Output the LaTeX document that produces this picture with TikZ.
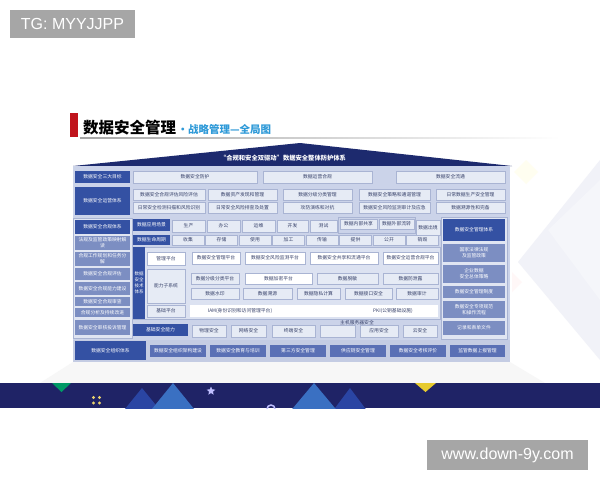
\documentclass[tikz,border=0pt]{standalone}
\usepackage{fontspec}
\setmainfont{Noto Sans CJK SC}
\newfontfamily\wmfont{Liberation Sans}
\usetikzlibrary{shapes.geometric}

\definecolor{roofblue}{HTML}{1D2A6E}
\definecolor{bandblue}{HTML}{1F2366}
\definecolor{panelbg}{HTML}{CBD3E9}
\definecolor{techbg}{HTML}{DCE2F1}
\definecolor{cellbg}{HTML}{E6EBF5}
\definecolor{cellline}{HTML}{A9B4D3}
\definecolor{celltext}{HTML}{37416A}
\definecolor{labdark}{HTML}{3451A3}
\definecolor{lablight}{HTML}{7C8EC2}
\definecolor{orgblue}{HTML}{5A70B5}
\definecolor{titlered}{HTML}{C0141C}
\definecolor{subblue}{HTML}{2F9AD8}
\definecolor{wmgray}{HTML}{A6A6A6}
\definecolor{tridark}{HTML}{2A45A3}
\definecolor{trilight}{HTML}{3A70C2}
\definecolor{diamondbg}{HTML}{F1F2F8}

\tikzset{
  box/.style={inner sep=0pt, outer sep=0pt, align=center, font=\fontsize{4.8}{5.8}\selectfont},
  lab/.style={box, fill=labdark, text=white},
  sublab/.style={box, fill=lablight, text=white},
  cell/.style={box, fill=cellbg, draw=cellline, line width=0.3pt, text=celltext},
  wcell/.style={cell, fill=white},
  orgcell/.style={box, fill=orgblue, text=white},
  frame/.style={draw=cellline, line width=0.4pt},
  wmark/.style={fill=wmgray, text=white, inner sep=0pt, font=\wmfont\fontsize{16}{18}\selectfont},
}

\begin{document}
\begin{tikzpicture}[x=1pt, y=-1pt]
	\useasboundingbox (0,0) rectangle (600,480);
	\fill[white] (0,0) rectangle (600,480);

	% rombos de fondo
	\fill[diamondbg] (600,160) -- (518,262) -- (600,360) -- cycle;
	\fill[diamondbg!70] (548,230) -- (600,180) -- (600,300) -- cycle;
	\fill[yellow!6] (526,160) -- (538,172) -- (526,184) -- (514,172) -- cycle;
	\fill[red!3] (512,272) -- (522,282) -- (512,292) -- cycle;

	% marcas de agua
	\node[wmark, minimum width=125, minimum height=28] (tg) at (72.5,24) {TG: MYYJJPP};
	\node[wmark, minimum width=161, minimum height=30] (site) at (507.5,455) {www.down-9y.com};

	% titulo
	\fill[titlered] (70,113) rectangle (78,137);
	\node[anchor=base west, inner sep=0pt, font=\fontsize{15.5}{17}\selectfont\bfseries] (title) at (83,133) {数据安全管理};
	\node[anchor=base west, inner sep=0pt, text=subblue, font=\fontsize{10.5}{12}\selectfont\bfseries] (subtitle) at ([xshift=1pt]title.base east) {•战略管理—全局图};
	\shade[left color=black!35, right color=white] (80,137.6) rectangle (560,138.6);

	% tejado
	\fill[roofblue] (73,166) -- (300,143) -- (512,166) -- cycle;
	\node[inner sep=0pt, text=white, font=\fontsize{6.3}{7}\selectfont\bfseries] (roof) at (283,158) {“合规和安全双驱动”数据安全整体防护体系};

	% panel y sombra
	\fill[black!3] (73,362) -- (510,362) -- (545,383) -- (40,383) -- cycle;
	\fill[panelbg] (73,166) rectangle (510,362);

	% tres objetivos
	\node[lab, minimum width=55, minimum height=12] (goal) at (102.5,177) {数据安全三大目标};
	\foreach \n/\a/\b/\t in {g1/133/257/数据安全防护, g2/263/372/数据运营合规, g3/396/505/数据安全流通}
		\node[cell, minimum width={\b-\a}, minimum height=12] (\n) at ({(\a+\b)/2},177) {\t};

	% sistema de operacion
	\node[lab, minimum width=55, minimum height=28] (oper) at (102.5,201) {数据安全运营体系};
	\foreach \n/\a/\b/\t in {oa1/133/205/数据安全合规评估风险评估, oa2/208/277/数据资产发现和管理, oa3/283/352/数据分级分类管理, oa4/359/430/数据安全策略和通道管理, oa5/436/505/日常数据生产安全管理}
		\node[cell, minimum width={\b-\a}, minimum height=11] (\n) at ({(\a+\b)/2},194.5) {\t};
	\foreach \n/\a/\b/\t in {ob1/133/205/日常安全检测扫描和风险识别, ob2/208/277/日常安全风险排查及处置, ob3/283/352/攻防演练和对抗, ob4/359/430/数据安全风险监测审计及应急, ob5/436/505/数据溯源性和完备}
		\node[cell, minimum width={\b-\a}, minimum height=11] (\n) at ({(\a+\b)/2},207.5) {\t};

	% columna izquierda: cumplimiento
	\draw[frame, fill=panelbg!60] (73,218) rectangle (132,338);
	\node[lab, minimum width=55, minimum height=14] (comp) at (102.5,227) {数据安全合规体系};
	\foreach \n/\c/\h/\t in {cp1/243/14/法规及监管政策映射解\\读, cp2/259/14/合规工作规划和任务分\\解, cp3/274/12/数据安全合规评估, cp4/288.5/13/数据安全合规能力建设, cp5/301.5/9/数据安全合规审查, cp6/312.5/9/合规分析及持续改进, cp7/327.5/15/数据安全审核投诉管理}
		\node[sublab, minimum width=55, minimum height=\h] (\n) at (102.5,\c) {\t};

	% escenarios y ciclo de vida
	\node[lab, minimum width=37, minimum height=12] (scene) at (151.5,225) {数据应用场景};
	\foreach \n/\a/\b/\t in {sc1/172/205/生产, sc2/207/240/办公, sc3/242/275/运维, sc4/277/308/开发, sc5/310/337/测试}
		\node[cell, minimum width={\b-\a}, minimum height=12] (\n) at ({(\a+\b)/2},226) {\t};
	\draw[frame] (338,217) rectangle (415,233.5);
	\node[cell, minimum width=37, minimum height=10] (share) at (358.5,224) {数据内部共享};
	\node[cell, minimum width=35, minimum height=10] (flow) at (396.5,224) {数据外部流转};
	\node[cell, minimum width=24, minimum height=15] (exit) at (428,227.5) {数据出境};

	\node[lab, minimum width=37, minimum height=10] (life) at (151.5,240) {数据生命周期};
	\foreach \t [count=\i from 0] in {收集,存储,使用,加工,传输,提供,公开,销毁}
		\node[cell, minimum width=32, minimum height=10] (life\i) at ({188+\i*33.5},240) {\t};

	% sistema tecnico
	\draw[frame, fill=techbg] (133,247) rectangle (440,319);
	\node[lab, minimum width=12, minimum height=72, font=\fontsize{4.5}{6}\selectfont] (tech) at (139,283) {数据\\安全\\技术\\体系};
	\node[wcell, minimum width=38, minimum height=13] (mgmt) at (166,258.5) {管理平台};
	\foreach \n/\a/\b/\t in {pf1/192/240/数据安全管理平台, pf2/245/305/数据安全风险监测平台, pf3/310/378/数据安全共享和流通平台, pf4/383/438/数据安全运营合规平台}
		\node[wcell, minimum width={\b-\a}, minimum height=12] (\n) at ({(\a+\b)/2},258) {\t};
	\node[cell, minimum width=38, minimum height=34] (subsys) at (166,286) {能力子系统};
	\node[cell, minimum width=48, minimum height=11] (sa1) at (215,278.5) {数据分级分类平台};
	\node[wcell, minimum width=67, minimum height=11] (sa2) at (278.5,278.5) {数据加密平台};
	\node[cell, minimum width=61, minimum height=11] (sa3) at (347.5,278.5) {数据脱敏};
	\node[cell, minimum width=55, minimum height=11] (sa4) at (410.5,278.5) {数据防泄露};
	\foreach \n/\a/\b/\t in {sb1/191/239/数据水印, sb2/243/292/数据溯源, sb3/297/340/数据隐私计算, sb4/345/392/数据接口安全, sb5/396/438/数据审计}
		\node[cell, minimum width={\b-\a}, minimum height=11] (\n) at ({(\a+\b)/2},293.5) {\t};
	\node[cell, minimum width=38, minimum height=12] (basepf) at (166,311) {基础平台};
	\fill[white] (190,305) rectangle (438,317);
	\node[box, text=celltext] (iam) at (240,311) {IAM(身份识别和访问管理平台)};
	\node[box, text=celltext] (pki) at (393,311) {PKI(公钥基础设施)};

	% capacidades basicas
	\node[lab, minimum width=55, minimum height=12] (basic) at (160.5,330) {基础安全能力};
	\foreach \n/\a/\b/\t in {bs1/192/226/物理安全, bs2/231/266/网络安全, bs3/272/315/终端安全, bs4/320/355/{}, bs5/360/398/应用安全, bs6/403/437/云安全}
		\node[cell, minimum width={\b-\a}, minimum height=12] (\n) at ({(\a+\b)/2},331) {\t};
	\node[box, text=celltext] (host) at (357,322.5) {主机服务器安全};

	% columna derecha: gestion
	\draw[frame, fill=panelbg!60] (441,217) rectangle (507,339);
	\node[lab, minimum width=62, minimum height=22] (mng) at (474,230) {数据安全管理体系};
	\foreach \n/\c/\h/\t in {mg1/253/18/国家法律法规\\及监管政策, mg2/274/18/企业数据\\安全总体策略, mg3/292/12/数据安全管理制度, mg4/309.5/17/数据安全专项规范\\和操作流程, mg5/328/14/记录和表单文件}
		\node[sublab, minimum width=62, minimum height=\h] (\n) at (474,\c) {\t};

	% organizacion
	\fill[lablight!45] (73,340) rectangle (510,362);
	\node[lab, minimum width=71, minimum height=19] (org) at (110.5,350.5) {数据安全组织体系};
	\foreach \n/\a/\b/\t in {og1/150/206/数据安全组织架构建设, og2/210/266/数据安全教育与培训, og3/270/326/第三方安全管理, og4/330/386/供应链安全管理, og5/390/446/数据安全考核评价, og6/450/505/监管数据上报管理}
		\node[orgcell, minimum width={\b-\a}, minimum height=12] (\n) at ({(\a+\b)/2},351) {\t};

	% franja inferior
	\fill[bandblue] (0,383) rectangle (600,408);
	\begin{scope}
		\clip (0,383) rectangle (600,408);
		\fill[tridark] (142,388) -- (168,420) -- (116,420) -- cycle;
		\fill[trilight] (173,383) -- (203,420) -- (143,420) -- cycle;
		\fill[tridark] (350,388) -- (374,420) -- (326,420) -- cycle;
		\fill[trilight] (314,383) -- (345,420) -- (283,420) -- cycle;
		\draw[blue!25, line width=1.5pt] (271,409) circle (4);
	\end{scope}
	\fill[teal!80!green] (52,383) -- (71,383) -- (61.5,392) -- cycle;
	\fill[yellow!60!brown] (415,383) -- (436,383) -- (425.5,392) -- cycle;
	\foreach \dx in {93.5,99.5}
		\foreach \dy in {397.5,403}
			\fill[yellow!50!brown!70] (\dx,\dy) circle (1.6);
	\node[star, star points=5, star point ratio=2.2, fill=blue!25, inner sep=0pt, minimum size=9] (star) at (211,391) {};
\end{tikzpicture}
\end{document}
